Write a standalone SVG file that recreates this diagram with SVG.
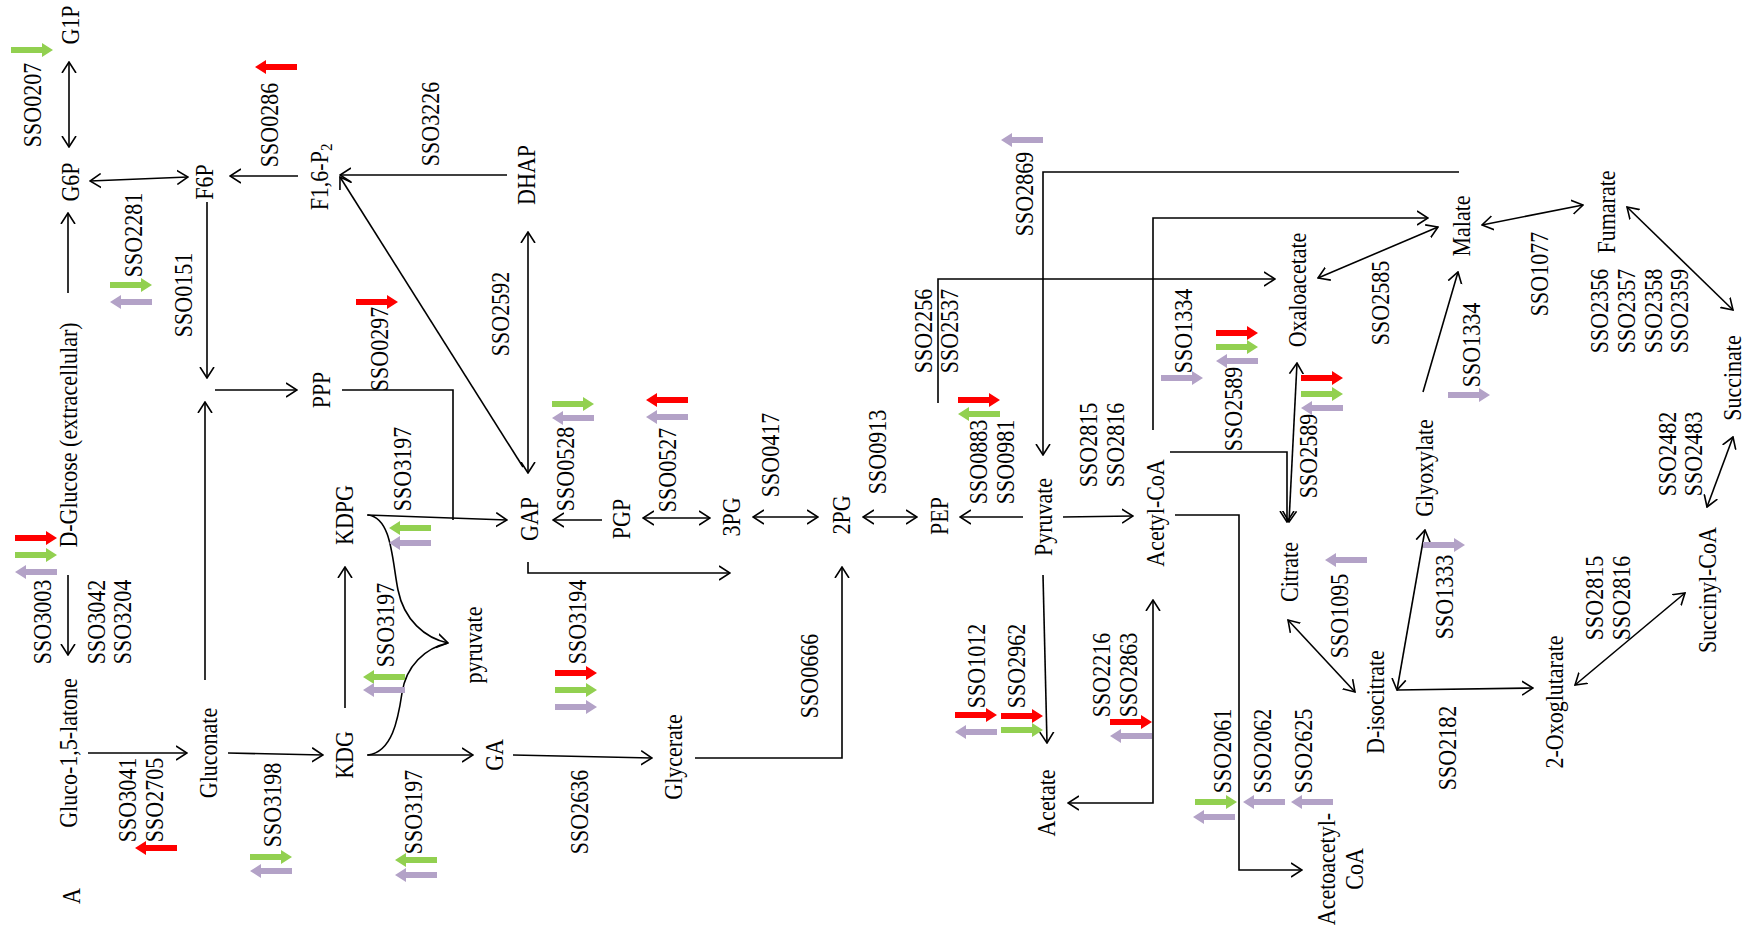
<svg xmlns="http://www.w3.org/2000/svg" xmlns:xlink="http://www.w3.org/1999/xlink" width="1745" height="931" viewBox="0 0 1745 931">
<style>
.t{font-family:"Liberation Serif","Times New Roman",serif;font-size:22px;text-anchor:middle;dominant-baseline:central;fill:#000}
.c{fill:none;stroke:#000;stroke-width:1.6}
.e{marker-end:url(#ah)}
.b{marker-start:url(#ah);marker-end:url(#ah)}
.r{fill:#FF0000}
.g{fill:#92D050}
.p{fill:#B3A2C7}
</style>
<defs>
<marker id="ah" viewBox="0 0 12 16" refX="11" refY="8" markerWidth="12" markerHeight="16" markerUnits="userSpaceOnUse" orient="auto-start-reverse">
<path d="M0,1 L11,8 L0,15" fill="none" stroke="#000" stroke-width="1.6"/>
</marker>
<path id="ba" d="M-21,-3 H10 V-7 L21,0 L10,7 V3 H-21 Z"/>
</defs>
<rect width="1745" height="931" fill="#fff"/>

<g id="connectors">
<path class="c b" d="M69,62 V147"/>
<path class="c e" d="M68,293 V213"/>
<path class="c b" d="M90,181 L188,177"/>
<path class="c e" d="M298,176 H230"/>
<path class="c e" d="M207,202 V378"/>
<path class="c e" d="M205,680 V402"/>
<path class="c e" d="M215,390 H297"/>
<path class="c e" d="M68,575 V655"/>
<path class="c e" d="M88,753 H187"/>
<path class="c e" d="M228,753 L323,755"/>
<path class="c e" d="M345,708 V567"/>
<path class="c e" d="M367,515 L507,520"/>
<path class="c" d="M342,390 H453 V520"/>
<path class="c e" d="M368,515 C392,518 392,560 398,590 S425,638 448,643"/>
<path class="c" d="M368,755 C392,752 398,720 402,693 S425,648 448,643"/>
<path class="c e" d="M367,755 H473"/>
<path class="c e" d="M513,755 L652,758"/>
<path class="c e" d="M507,175 H340"/>
<path class="c b" d="M528,473 V232"/>
<path class="c e" d="M523,467 L340,177"/>
<path class="c e" d="M602,520 H553"/>
<path class="c e" d="M528,562 V573 H730"/>
<path class="c b" d="M643,518 H710"/>
<path class="c b" d="M753,517 H818"/>
<path class="c e" d="M695,758 H842 V567"/>
<path class="c b" d="M863,517 H917"/>
<path class="c e" d="M1023,517 H960"/>
<path class="c e" d="M938,403 V279 H1275"/>
<path class="c e" d="M1459,172 H1043 V455"/>
<path class="c e" d="M1063,517 L1133,516"/>
<path class="c e" d="M1043,575 L1047,743"/>
<path class="c b" d="M1068,803 H1153 V600"/>
<path class="c e" d="M1153,430 V218 H1428"/>
<path class="c e" d="M1170,452 H1287 V522"/>
<path class="c b" d="M1297,363 L1289,522"/>
<path class="c e" d="M1175,515 H1239 V870 H1302"/>
<path class="c b" d="M1318,278 L1438,227"/>
<path class="c e" d="M1423,392 L1458,272"/>
<path class="c b" d="M1482,225 L1583,205"/>
<path class="c b" d="M1627,207 L1733,310"/>
<path class="c b" d="M1733,437 L1707,507"/>
<path class="c b" d="M1575,685 L1685,593"/>
<path class="c e" d="M1397,690 L1533,688"/>
<path class="c b" d="M1397,690 L1425,530"/>
<path class="c b" d="M1288,620 L1355,692"/>
</g>

<g id="metabolites">
<g id="n-G1P"><text class="t" transform="translate(71,25) scale(1.1,1) rotate(-90)">G1P</text></g>
<g id="n-G6P"><text class="t" transform="translate(71,182) scale(1.1,1) rotate(-90)">G6P</text></g>
<g id="n-F6P"><text class="t" transform="translate(205,182) scale(1.1,1) rotate(-90)">F6P</text></g>
<g id="n-F16P2"><text class="t" transform="translate(320,177) scale(1.1,1) rotate(-90)">F1,6-P<tspan font-size="15" dy="5">2</tspan></text></g>
<g id="n-DHAP"><text class="t" transform="translate(527,175) scale(1.1,1) rotate(-90)">DHAP</text></g>
<g id="n-PPP"><text class="t" transform="translate(322,390) scale(1.1,1) rotate(-90)">PPP</text></g>
<g id="n-DGlucose"><text class="t" transform="translate(69,435) scale(1.1,1) rotate(-90)">D-Glucose (extracellular)</text></g>
<g id="n-Glucolatone"><text class="t" transform="translate(69,753) scale(1.1,1) rotate(-90)">Gluco-1,5-latone</text></g>
<g id="n-Gluconate"><text class="t" transform="translate(209,753) scale(1.1,1) rotate(-90)">Gluconate</text></g>
<g id="n-KDPG"><text class="t" transform="translate(345,515) scale(1.1,1) rotate(-90)">KDPG</text></g>
<g id="n-KDG"><text class="t" transform="translate(345,755) scale(1.1,1) rotate(-90)">KDG</text></g>
<g id="n-pyruvate"><text class="t" transform="translate(474,645) scale(1.1,1) rotate(-90)">pyruvate</text></g>
<g id="n-GA"><text class="t" transform="translate(495,755) scale(1.1,1) rotate(-90)">GA</text></g>
<g id="n-GAP"><text class="t" transform="translate(530,519) scale(1.1,1) rotate(-90)">GAP</text></g>
<g id="n-PGP"><text class="t" transform="translate(622,519) scale(1.1,1) rotate(-90)">PGP</text></g>
<g id="n-3PG"><text class="t" transform="translate(732,517) scale(1.1,1) rotate(-90)">3PG</text></g>
<g id="n-2PG"><text class="t" transform="translate(842,515) scale(1.1,1) rotate(-90)">2PG</text></g>
<g id="n-Glycerate"><text class="t" transform="translate(674,757) scale(1.1,1) rotate(-90)">Glycerate</text></g>
<g id="n-PEP"><text class="t" transform="translate(940,516) scale(1.1,1) rotate(-90)">PEP</text></g>
<g id="n-Pyruvate"><text class="t" transform="translate(1044,517) scale(1.1,1) rotate(-90)">Pyruvate</text></g>
<g id="n-AcetylCoA"><text class="t" transform="translate(1156,513) scale(1.1,1) rotate(-90)">Acetyl-CoA</text></g>
<g id="n-Acetate"><text class="t" transform="translate(1047,803) scale(1.1,1) rotate(-90)">Acetate</text></g>
<g id="n-Oxaloacetate"><text class="t" transform="translate(1298,290) scale(1.1,1) rotate(-90)">Oxaloacetate</text></g>
<g id="n-Citrate"><text class="t" transform="translate(1290,572) scale(1.1,1) rotate(-90)">Citrate</text></g>
<g id="n-Disocitrate"><text class="t" transform="translate(1376,702) scale(1.1,1) rotate(-90)">D-isocitrate</text></g>
<g id="n-Glyoxylate"><text class="t" transform="translate(1425,468) scale(1.1,1) rotate(-90)">Glyoxylate</text></g>
<g id="n-Malate"><text class="t" transform="translate(1462,226) scale(1.1,1) rotate(-90)">Malate</text></g>
<g id="n-Fumarate"><text class="t" transform="translate(1607,212) scale(1.1,1) rotate(-90)">Fumarate</text></g>
<g id="n-Succinate"><text class="t" transform="translate(1733,378) scale(1.1,1) rotate(-90)">Succinate</text></g>
<g id="n-SuccinylCoA"><text class="t" transform="translate(1708,590) scale(1.1,1) rotate(-90)">Succinyl-CoA</text></g>
<g id="n-2Oxoglutarate"><text class="t" transform="translate(1555,702) scale(1.1,1) rotate(-90)">2-Oxoglutarate</text></g>
<g id="n-AcetoacetylCoA"><text class="t" transform="translate(1327,869) scale(1.1,1) rotate(-90)">Acetoacetyl-</text><text class="t" transform="translate(1355,869) scale(1.1,1) rotate(-90)">CoA</text></g>
<g id="n-A"><text class="t" transform="translate(72,896) scale(1.1,1) rotate(-90)">A</text></g>
</g>

<g id="genes">
<g id="g-SSO0207"><text class="t" transform="translate(33,105) scale(1.1,1) rotate(-90)">SSO0207</text><use href="#ba" class="g" transform="translate(32,50)"/></g>
<g id="g-SSO0286"><text class="t" transform="translate(270,125) scale(1.1,1) rotate(-90)">SSO0286</text><use href="#ba" class="r" transform="translate(276,67) scale(-1,1)"/></g>
<g id="g-SSO2281"><text class="t" transform="translate(134,235) scale(1.1,1) rotate(-90)">SSO2281</text><use href="#ba" class="g" transform="translate(131,285)"/><use href="#ba" class="p" transform="translate(131,302) scale(-1,1)"/></g>
<g id="g-SSO0151"><text class="t" transform="translate(184,295) scale(1.1,1) rotate(-90)">SSO0151</text></g>
<g id="g-SSO3226"><text class="t" transform="translate(431,124) scale(1.1,1) rotate(-90)">SSO3226</text></g>
<g id="g-SSO0297"><text class="t" transform="translate(380,349) scale(1.1,1) rotate(-90)">SSO0297</text><use href="#ba" class="r" transform="translate(377,302)"/></g>
<g id="g-SSO2592"><text class="t" transform="translate(501,314) scale(1.1,1) rotate(-90)">SSO2592</text></g>
<g id="g-SSO3003"><text class="t" transform="translate(43,622) scale(1.1,1) rotate(-90)">SSO3003</text><use href="#ba" class="r" transform="translate(36,538)"/><use href="#ba" class="g" transform="translate(36,555)"/><use href="#ba" class="p" transform="translate(36,572) scale(-1,1)"/></g>
<g id="g-SSO3042"><text class="t" transform="translate(97,622) scale(1.1,1) rotate(-90)">SSO3042</text><text class="t" transform="translate(123,622) scale(1.1,1) rotate(-90)">SSO3204</text></g>
<g id="g-SSO3041"><text class="t" transform="translate(128,800) scale(1.1,1) rotate(-90)">SSO3041</text><text class="t" transform="translate(155,800) scale(1.1,1) rotate(-90)">SSO2705</text><use href="#ba" class="r" transform="translate(156,848) scale(-1,1)"/></g>
<g id="g-SSO3198"><text class="t" transform="translate(273,805) scale(1.1,1) rotate(-90)">SSO3198</text><use href="#ba" class="g" transform="translate(271,857)"/><use href="#ba" class="p" transform="translate(271,871) scale(-1,1)"/></g>
<g id="g-SSO3197a"><text class="t" transform="translate(403,469) scale(1.1,1) rotate(-90)">SSO3197</text><use href="#ba" class="g" transform="translate(410,528) scale(-1,1)"/><use href="#ba" class="p" transform="translate(410,543) scale(-1,1)"/></g>
<g id="g-SSO3197b"><text class="t" transform="translate(386,625) scale(1.1,1) rotate(-90)">SSO3197</text><use href="#ba" class="g" transform="translate(384,677) scale(-1,1)"/><use href="#ba" class="p" transform="translate(384,690) scale(-1,1)"/></g>
<g id="g-SSO3197c"><text class="t" transform="translate(414,812) scale(1.1,1) rotate(-90)">SSO3197</text><use href="#ba" class="g" transform="translate(416,860) scale(-1,1)"/><use href="#ba" class="p" transform="translate(416,875) scale(-1,1)"/></g>
<g id="g-SSO2636"><text class="t" transform="translate(580,812) scale(1.1,1) rotate(-90)">SSO2636</text></g>
<g id="g-SSO3194"><text class="t" transform="translate(578,622) scale(1.1,1) rotate(-90)">SSO3194</text><use href="#ba" class="r" transform="translate(576,673)"/><use href="#ba" class="g" transform="translate(576,690)"/><use href="#ba" class="p" transform="translate(576,707)"/></g>
<g id="g-SSO0528"><text class="t" transform="translate(566,469) scale(1.1,1) rotate(-90)">SSO0528</text><use href="#ba" class="g" transform="translate(573,404)"/><use href="#ba" class="p" transform="translate(573,418) scale(-1,1)"/></g>
<g id="g-SSO0527"><text class="t" transform="translate(668,470) scale(1.1,1) rotate(-90)">SSO0527</text><use href="#ba" class="r" transform="translate(667,400) scale(-1,1)"/><use href="#ba" class="p" transform="translate(667,417) scale(-1,1)"/></g>
<g id="g-SSO0417"><text class="t" transform="translate(771,455) scale(1.1,1) rotate(-90)">SSO0417</text></g>
<g id="g-SSO0913"><text class="t" transform="translate(878,452) scale(1.1,1) rotate(-90)">SSO0913</text></g>
<g id="g-SSO0666"><text class="t" transform="translate(810,676) scale(1.1,1) rotate(-90)">SSO0666</text></g>
<g id="g-SSO2869"><text class="t" transform="translate(1025,194) scale(1.1,1) rotate(-90)">SSO2869</text><use href="#ba" class="p" transform="translate(1022,140) scale(-1,1)"/></g>
<g id="g-SSO2256"><text class="t" transform="translate(924,331) scale(1.1,1) rotate(-90)">SSO2256</text><text class="t" transform="translate(950,331) scale(1.1,1) rotate(-90)">SSO2537</text></g>
<g id="g-SSO0883"><text class="t" transform="translate(979,462) scale(1.1,1) rotate(-90)">SSO0883</text><text class="t" transform="translate(1006,462) scale(1.1,1) rotate(-90)">SSO0981</text><use href="#ba" class="r" transform="translate(979,400)"/><use href="#ba" class="g" transform="translate(979,414) scale(-1,1)"/></g>
<g id="g-SSO2815a"><text class="t" transform="translate(1089,445) scale(1.1,1) rotate(-90)">SSO2815</text><text class="t" transform="translate(1116,445) scale(1.1,1) rotate(-90)">SSO2816</text></g>
<g id="g-SSO1012"><text class="t" transform="translate(977,666) scale(1.1,1) rotate(-90)">SSO1012</text><use href="#ba" class="r" transform="translate(976,715)"/><use href="#ba" class="p" transform="translate(976,732) scale(-1,1)"/></g>
<g id="g-SSO2962"><text class="t" transform="translate(1017,666) scale(1.1,1) rotate(-90)">SSO2962</text><use href="#ba" class="r" transform="translate(1022,716)"/><use href="#ba" class="g" transform="translate(1022,730)"/></g>
<g id="g-SSO2216"><text class="t" transform="translate(1102,675) scale(1.1,1) rotate(-90)">SSO2216</text><text class="t" transform="translate(1129,675) scale(1.1,1) rotate(-90)">SSO2863</text><use href="#ba" class="r" transform="translate(1131,722)"/><use href="#ba" class="p" transform="translate(1131,736) scale(-1,1)"/></g>
<g id="g-SSO1334a"><text class="t" transform="translate(1184,331) scale(1.1,1) rotate(-90)">SSO1334</text><use href="#ba" class="p" transform="translate(1182,378)"/></g>
<g id="g-SSO2589a"><text class="t" transform="translate(1234,409) scale(1.1,1) rotate(-90)">SSO2589</text><use href="#ba" class="r" transform="translate(1237,333)"/><use href="#ba" class="g" transform="translate(1237,347)"/><use href="#ba" class="p" transform="translate(1237,361) scale(-1,1)"/></g>
<g id="g-SSO2589b"><text class="t" transform="translate(1309,456) scale(1.1,1) rotate(-90)">SSO2589</text><use href="#ba" class="r" transform="translate(1322,378)"/><use href="#ba" class="g" transform="translate(1322,394)"/><use href="#ba" class="p" transform="translate(1322,408) scale(-1,1)"/></g>
<g id="g-SSO2585"><text class="t" transform="translate(1381,303) scale(1.1,1) rotate(-90)">SSO2585</text></g>
<g id="g-SSO1334b"><text class="t" transform="translate(1472,345) scale(1.1,1) rotate(-90)">SSO1334</text><use href="#ba" class="p" transform="translate(1469,395)"/></g>
<g id="g-SSO1077"><text class="t" transform="translate(1540,274) scale(1.1,1) rotate(-90)">SSO1077</text></g>
<g id="g-SSO2356"><text class="t" transform="translate(1600,311) scale(1.1,1) rotate(-90)">SSO2356</text><text class="t" transform="translate(1627,311) scale(1.1,1) rotate(-90)">SSO2357</text><text class="t" transform="translate(1654,311) scale(1.1,1) rotate(-90)">SSO2358</text><text class="t" transform="translate(1680,311) scale(1.1,1) rotate(-90)">SSO2359</text></g>
<g id="g-SSO2482"><text class="t" transform="translate(1668,454) scale(1.1,1) rotate(-90)">SSO2482</text><text class="t" transform="translate(1694,454) scale(1.1,1) rotate(-90)">SSO2483</text></g>
<g id="g-SSO2815b"><text class="t" transform="translate(1595,598) scale(1.1,1) rotate(-90)">SSO2815</text><text class="t" transform="translate(1622,598) scale(1.1,1) rotate(-90)">SSO2816</text></g>
<g id="g-SSO1095"><text class="t" transform="translate(1340,616) scale(1.1,1) rotate(-90)">SSO1095</text><use href="#ba" class="p" transform="translate(1346,560) scale(-1,1)"/></g>
<g id="g-SSO1333"><text class="t" transform="translate(1445,597) scale(1.1,1) rotate(-90)">SSO1333</text><use href="#ba" class="p" transform="translate(1444,545)"/></g>
<g id="g-SSO2182"><text class="t" transform="translate(1448,748) scale(1.1,1) rotate(-90)">SSO2182</text></g>
<g id="g-SSO2061"><text class="t" transform="translate(1223,751) scale(1.1,1) rotate(-90)">SSO2061</text><use href="#ba" class="g" transform="translate(1216,802)"/><use href="#ba" class="p" transform="translate(1214,817) scale(-1,1)"/></g>
<g id="g-SSO2062"><text class="t" transform="translate(1263,751) scale(1.1,1) rotate(-90)">SSO2062</text><use href="#ba" class="p" transform="translate(1264,802) scale(-1,1)"/></g>
<g id="g-SSO2625"><text class="t" transform="translate(1304,751) scale(1.1,1) rotate(-90)">SSO2625</text><use href="#ba" class="p" transform="translate(1312,802) scale(-1,1)"/></g>
</g>
</svg>
